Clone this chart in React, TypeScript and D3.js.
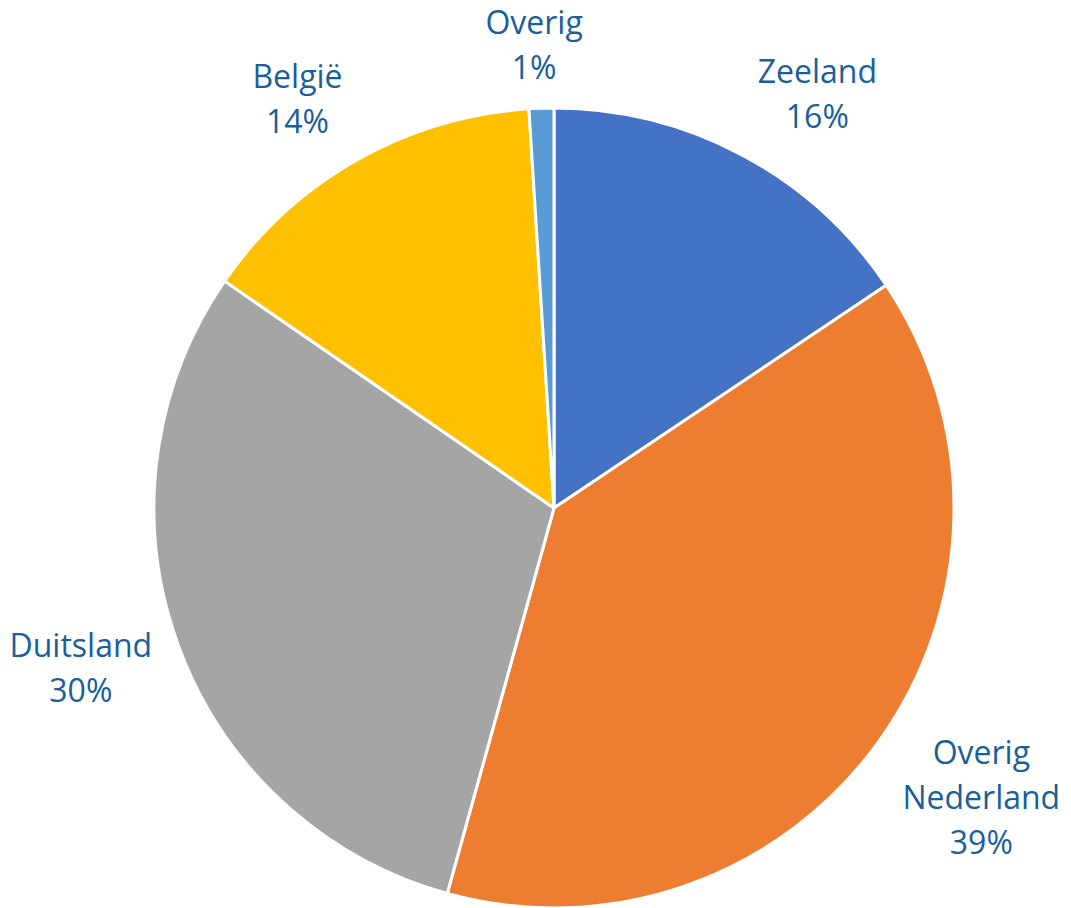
import * as d3 from 'd3'
import { useEffect, useRef } from 'react'

// slice data (percent of total)
const regions = ['Zeeland', 'Overig Nederland', 'Duitsland', 'België', 'Overig']
const shares = [15.6, 38.7, 30.3, 14.4, 1.0]
const labelLines = [['Zeeland'], ['Overig', 'Nederland'], ['Duitsland'], ['België'], ['Overig']]
const sliceColors = ['#4472C4', '#ED7D31', '#A5A5A5', '#FFC000', '#5B9BD5']

interface Slice {
  name: string
  value: number
  lines: string[]
  color: string
}

export default function App() {
  const svgRef = useRef<SVGSVGElement>(null)

  const width = 1071
  const height = 908
  const cx = 554
  const cy = 508
  const radius = 400
  const fontSize = 32
  const lineGap = 45

  useEffect(() => {
    const data: Slice[] = regions.map((name, i) => ({
      name,
      value: shares[i],
      lines: labelLines[i],
      color: sliceColors[i],
    }))

    const svg = d3.select(svgRef.current)
    svg.selectAll('*').remove()

    const g = svg.append('g').attr('transform', `translate(${cx},${cy})`)

    const pie = d3.pie<Slice>().value(d => d.value).sort(null)
    const arcs = pie(data)
    const arc = d3.arc<d3.PieArcDatum<Slice>>().innerRadius(0).outerRadius(radius)

    g.selectAll('path.slice')
      .data(arcs)
      .enter()
      .append('path')
      .attr('class', 'slice')
      .attr('d', arc)
      .style('fill', d => d.data.color)
      .style('stroke', '#fff')
      .style('stroke-width', 3)
      .style('stroke-linejoin', 'round')

    const total = d3.sum(data, d => d.value)

    // labels outside the pie: out along the mid angle, then shifted by the box size
    arcs.forEach(a => {
      const mid = (a.startAngle + a.endAngle) / 2
      const s = Math.sin(mid)
      const c = Math.cos(mid)
      const pct = `${Math.round((a.data.value / total) * 100)}%`
      const lines = [...a.data.lines, pct]

      const label = g.append('text')
        .attr('text-anchor', 'middle')
        .style('font-family', '"Open Sans", sans-serif')
        .style('font-size', `${fontSize}px`)
        .style('fill', '#1A5F9A')

      lines.forEach((t, i) => {
        label.append('tspan')
          .attr('x', 0)
          .attr('y', i * lineGap)
          .text(t)
      })

      const w = (label.node() as SVGTextElement).getBBox().width
      const h = lines.length * lineGap
      const side = Math.max(-1, Math.min(1, s * 4))
      const px = s * (radius + 20) + side * w * 0.55
      let py = -c * (radius + 20) - c * h * 0.55
      // keep the box inside the chart area
      py = Math.max(py, h / 2 - cy)
      const top = py - h / 2 + lineGap / 2 + fontSize * 0.36
      label.attr('transform', `translate(${px},${top})`)
    })
  }, [])

  return (
    <svg
      ref={svgRef}
      width={width}
      height={height}
      style={{ position: 'absolute', left: 0, top: 0, background: '#fff' }}
    />
  )
}
